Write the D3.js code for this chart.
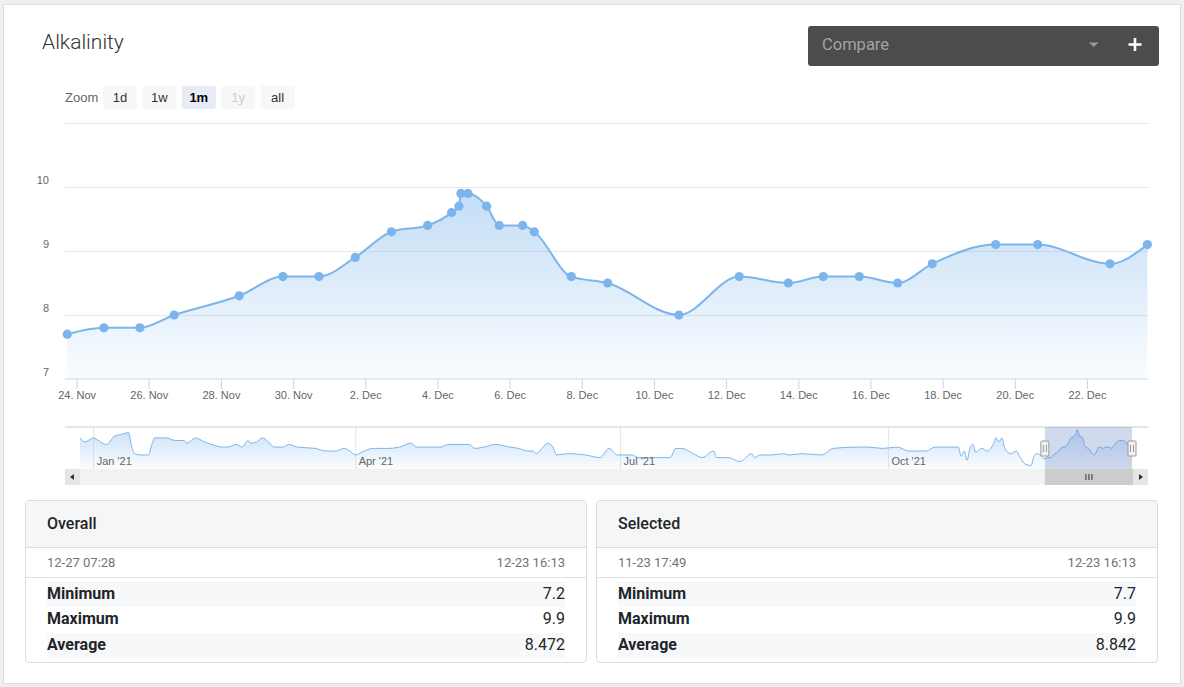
<!DOCTYPE html>
<html>
<head>
<meta charset="utf-8">
<script src="https://cdn.jsdelivr.net/npm/d3@7"></script>
<style>
  body { margin:0; background:#efefef; width:1184px; height:687px; overflow:hidden; font-family:Roboto, "Noto Sans", sans-serif; }
  #card { position:absolute; left:3px; top:4px; width:1178px; height:680px; background:#fff; border:1px solid #dedede; box-sizing:border-box; }
  #chart { position:absolute; left:0; top:0; }
  .stat { position:absolute; top:500px; width:562px; height:163px; border:1px solid #dcdcdc; border-radius:4px; box-sizing:border-box; overflow:hidden; background:#fff; }
  .stat .hd { height:46px; background:#f6f6f6; border-bottom:1px solid #dcdcdc; padding-left:21px; line-height:46px; font-size:16px; font-weight:500; color:#212529; }
  .stat .dates { height:29px; border-bottom:1px solid #e2e2e2; display:flex; justify-content:space-between; padding:0 21px; line-height:29px; font-size:13px; color:#6c757d; }
  .stat .rows { padding:4px 21px 0; }
  .stat .row { height:25.3px; display:flex; justify-content:space-between; line-height:24px; font-size:16px; color:#212529; }
  .stat .row:nth-child(odd) { background:#f7f8f9; }
  .stat .row .k { font-weight:700; }
</style>
</head>
<body>
<div id="card"></div>
<svg id="chart" width="1184" height="687"></svg>
<script>
// selected month (main chart)
const mainDates = [
  "2021-11-23T17:49", "2021-11-24T18:10", "2021-11-25T18:06", "2021-11-26T16:55", "2021-11-28T12:10",
  "2021-11-29T17:14", "2021-11-30T17:11", "2021-12-01T17:20", "2021-12-02T17:24", "2021-12-03T17:29",
  "2021-12-04T09:27", "2021-12-04T14:18", "2021-12-04T15:37", "2021-12-04T20:17", "2021-12-05T08:44",
  "2021-12-05T17:07", "2021-12-06T08:40", "2021-12-06T16:23", "2021-12-07T17:00", "2021-12-08T17:13",
  "2021-12-10T16:38", "2021-12-12T08:45", "2021-12-13T17:21", "2021-12-14T16:38", "2021-12-15T16:35",
  "2021-12-16T18:07", "2021-12-17T17:08", "2021-12-19T11:18", "2021-12-20T15:14", "2021-12-22T15:20",
  "2021-12-23T16:13"
];
const mainValues = [
  7.7, 7.8, 7.8, 8.0, 8.3, 8.6, 8.6, 8.9, 9.3, 9.4,
  9.6, 9.7, 9.9, 9.9, 9.7, 9.4, 9.4, 9.3, 8.6, 8.5,
  8.0, 8.6, 8.5, 8.6, 8.6, 8.5, 8.8, 9.1, 9.1, 8.8,
  9.1
];

// older history shown only in the navigator
const navDates = [
  "2020-12-27T07:28", "2020-12-29", "2020-12-31T22:00", "2021-01-02", "2021-01-04", "2021-01-05T12:00",
  "2021-01-08", "2021-01-11", "2021-01-13", "2021-01-14", "2021-01-15", "2021-01-17", "2021-01-19T19:00",
  "2021-01-21", "2021-01-22", "2021-01-26", "2021-01-29", "2021-02-01", "2021-02-02", "2021-02-05",
  "2021-02-08", "2021-02-12", "2021-02-14", "2021-02-16", "2021-02-19", "2021-02-21", "2021-02-23",
  "2021-02-24", "2021-02-26", "2021-02-28", "2021-03-02", "2021-03-04", "2021-03-07", "2021-03-09",
  "2021-03-12", "2021-03-18", "2021-03-22", "2021-03-25", "2021-03-28", "2021-03-30", "2021-04-01",
  "2021-04-03", "2021-04-07", "2021-04-10", "2021-04-12", "2021-04-16", "2021-04-20", "2021-04-22",
  "2021-04-26", "2021-04-30", "2021-05-03", "2021-05-10", "2021-05-12", "2021-05-15", "2021-05-19",
  "2021-05-24", "2021-05-27", "2021-05-30", "2021-06-01", "2021-06-02", "2021-06-04", "2021-06-06",
  "2021-06-08", "2021-06-09", "2021-06-13", "2021-06-19", "2021-06-24", "2021-06-27", "2021-06-30",
  "2021-07-05", "2021-07-07", "2021-07-18", "2021-07-20", "2021-07-22", "2021-07-26", "2021-07-29",
  "2021-08-02", "2021-08-03", "2021-08-07", "2021-08-11", "2021-08-15", "2021-08-16", "2021-08-18",
  "2021-08-22", "2021-08-26", "2021-08-28", "2021-09-01", "2021-09-08", "2021-09-12", "2021-09-20",
  "2021-09-24", "2021-09-29", "2021-10-04", "2021-10-08", "2021-10-14", "2021-10-17", "2021-10-25",
  "2021-10-26", "2021-10-27", "2021-10-28", "2021-10-29", "2021-10-30", "2021-10-31", "2021-11-02",
  "2021-11-04", "2021-11-06", "2021-11-07", "2021-11-08", "2021-11-09", "2021-11-10", "2021-11-12",
  "2021-11-14", "2021-11-15", "2021-11-17", "2021-11-19", "2021-11-20", "2021-11-21", "2021-11-22"
];
const navValues = [
  9.3, 9.0, 9.3, 9.2, 8.9, 8.8,
  9.4, 9.6, 9.7, 8.7, 8.1, 8.0, 8.0,
  8.8, 9.3, 9.3, 9.1, 9.1, 8.9, 9.3,
  9.0, 8.7, 8.6, 8.6, 8.8, 8.6, 9.1,
  8.9, 9.0, 9.3, 9.0, 8.6, 8.6, 8.8,
  8.6, 8.5, 8.3, 8.3, 8.5, 8.3, 8.0,
  8.2, 8.5, 8.5, 8.5, 8.6, 8.9, 8.6,
  8.6, 8.6, 8.8, 8.8, 8.5, 8.6, 8.8,
  8.6, 8.5, 8.3, 8.3, 8.1, 8.5, 8.9,
  8.5, 8.0, 8.1, 8.0, 7.8, 8.5, 8.0,
  8.0, 7.8, 7.8, 8.5, 8.5, 8.1, 7.8,
  8.3, 7.8, 7.8, 7.5, 8.1, 7.8, 8.0,
  8.0, 8.1, 8.0, 8.1, 8.0, 8.5, 8.6,
  8.6, 8.5, 8.6, 8.3, 8.3, 8.6, 8.6,
  7.9, 8.3, 7.6, 8.5, 8.8, 8.2, 8.5,
  8.3, 8.8, 9.3, 9.0, 9.3, 8.5, 8.1,
  8.3, 7.9, 7.3, 7.2, 7.9, 8.1, 8.0
];

const yLabels = [7, 8, 9, 10];
const yGrid = [8, 9, 10, 11];
const navMonths = ["2021-01-01", "2021-04-01", "2021-07-01", "2021-10-01"];
const zoomButtons = ["1d", "1w", "1m", "1y", "all"];

const statTitles = ["Overall", "Selected"];
const statFrom = ["12-27 07:28", "11-23 17:49"];
const statTo = ["12-23 16:13", "12-23 16:13"];
const statLabels = ["Minimum", "Maximum", "Average"];
const overallStats = ["7.2", "9.9", "8.472"];
const selectedStats = ["7.7", "9.9", "8.842"];

const parse = s => s.length > 10 ? d3.timeParse("%Y-%m-%dT%H:%M")(s) : d3.timeParse("%Y-%m-%d")(s);
const main = mainDates.map((d, i) => ({ t: parse(d), v: mainValues[i] }));
const nav = navDates.map((d, i) => ({ t: parse(d), v: navValues[i] })).concat(main);

const svg = d3.select("#chart");
const chartFont = '"Liberation Sans", Arial, sans-serif';
const blue = "#7cb5ec";
const plotL = 65, plotR = 1148, plotT = 123, plotB = 379;

// title
svg.append("text").attr("x", 42).attr("y", 49)
  .attr("font-family", "Roboto").attr("font-weight", 300).attr("font-size", 21)
  .attr("fill", "#333").text("Alkalinity");

// compare box
const cmp = svg.append("g");
cmp.append("rect").attr("x", 808).attr("y", 26).attr("width", 351).attr("height", 40)
  .attr("rx", 3).attr("fill", "#4b4c4b");
cmp.append("text").attr("x", 822).attr("y", 50).attr("font-family", "Roboto")
  .attr("font-size", 16.5).attr("fill", "#a3a3a3").text("Compare");
cmp.append("path").attr("d", "M1089,42.5 L1098.5,42.5 L1093.75,47 Z").attr("fill", "#9a9a9a");
cmp.append("path").attr("d", "M1128.5,44.5 H1141.5 M1135,38 V51")
  .attr("stroke", "#fff").attr("stroke-width", 2.6);

// zoom buttons
svg.append("text").attr("x", 65).attr("y", 102).attr("font-family", chartFont)
  .attr("font-size", 13).attr("fill", "#666").text("Zoom");
const btn = svg.append("g").selectAll("g").data(zoomButtons).enter().append("g")
  .attr("transform", (d, i) => `translate(${103 + i * 39.4},86)`);
btn.append("rect").attr("width", 34).attr("height", 23).attr("rx", 2)
  .attr("fill", d => d === "1m" ? "#e6ebf5" : "#f7f7f7");
btn.append("text").attr("x", 17).attr("y", 16).attr("text-anchor", "middle")
  .attr("font-family", chartFont).attr("font-size", 13)
  .attr("font-weight", d => d === "1m" ? "bold" : "normal")
  .attr("fill", d => d === "1m" ? "#000" : d === "1y" ? "#ccc" : "#333")
  .text(d => d);

// main chart scales
const x = d3.scaleTime().domain([main[0].t, main[main.length - 1].t]).range([67.3, 1147.4]);
const y = d3.scaleLinear().domain([7, 11]).range([plotB, plotT]);

// grid
svg.append("g").attr("transform", `translate(${plotL},0)`)
  .call(d3.axisRight(y).tickValues(yGrid).tickSize(plotR - plotL).tickFormat(""))
  .call(g => g.select(".domain").remove())
  .call(g => g.selectAll("line").attr("stroke", "#e6e6e6"));

// y labels
svg.append("g").attr("transform", "translate(49,-7)")
  .call(d3.axisLeft(y).tickValues(yLabels).tickSize(0).tickPadding(0).tickFormat(d3.format("d")))
  .call(g => g.select(".domain").remove())
  .call(g => g.selectAll("text").attr("font-family", chartFont).attr("font-size", 11).attr("fill", "#666"));

// area + line
const defs = svg.append("defs");
const grad = defs.append("linearGradient").attr("id", "mainFill").attr("x1", 0).attr("y1", 0).attr("x2", 0).attr("y2", 1);
grad.append("stop").attr("offset", 0).attr("stop-color", blue).attr("stop-opacity", 0.45);
grad.append("stop").attr("offset", 1).attr("stop-color", blue).attr("stop-opacity", 0.04);
const navGrad = defs.append("linearGradient").attr("id", "navFill").attr("x1", 0).attr("y1", 0).attr("x2", 0).attr("y2", 1);
navGrad.append("stop").attr("offset", 0).attr("stop-color", blue).attr("stop-opacity", 0.4);
navGrad.append("stop").attr("offset", 1).attr("stop-color", blue).attr("stop-opacity", 0.03);

svg.append("path").datum(main)
  .attr("d", d3.area().curve(d3.curveMonotoneX).x(d => x(d.t)).y0(plotB).y1(d => y(d.v)))
  .attr("fill", "url(#mainFill)");
svg.append("path").datum(main)
  .attr("d", d3.line().curve(d3.curveMonotoneX).x(d => x(d.t)).y(d => y(d.v)))
  .attr("fill", "none").attr("stroke", blue).attr("stroke-width", 2);

// x axis
svg.append("line").attr("x1", plotL).attr("x2", plotR).attr("y1", plotB).attr("y2", plotB)
  .attr("stroke", "#ccd6eb");
const tickDates = d3.timeDay.range(new Date(2021, 10, 24), main[main.length - 1].t, 2);
svg.append("g").attr("transform", `translate(0,${plotB})`)
  .call(d3.axisBottom(x).tickValues(tickDates).tickSize(10).tickPadding(2).tickFormat(d3.timeFormat("%-d. %b")))
  .call(g => g.select(".domain").remove())
  .call(g => g.selectAll("line").attr("stroke", "#ccd6eb"))
  .call(g => g.selectAll("text").attr("font-family", chartFont).attr("font-size", 11).attr("fill", "#666"));

// markers
svg.append("g").selectAll("circle").data(main).enter().append("circle")
  .attr("cx", d => x(d.t)).attr("cy", d => y(d.v)).attr("r", 4.6).attr("fill", blue);

// navigator
const navT = 427, navB = 469;
const nx = d3.scaleTime().domain([nav[0].t, nav[nav.length - 1].t]).range([80, 1132]);
const ny = d3.scaleLinear().domain([7.2, 9.9]).range([465.5, 430]);

svg.append("g").selectAll("line").data(navMonths).enter().append("line")
  .attr("x1", d => nx(parse(d))).attr("x2", d => nx(parse(d)))
  .attr("y1", navT).attr("y2", navB).attr("stroke", "#e6e6e6");

svg.append("path").datum(nav)
  .attr("d", d3.area().curve(d3.curveMonotoneX).x(d => nx(d.t)).y0(navB).y1(d => ny(d.v)))
  .attr("fill", "url(#navFill)");
svg.append("path").datum(nav)
  .attr("d", d3.line().curve(d3.curveMonotoneX).x(d => nx(d.t)).y(d => ny(d.v)))
  .attr("fill", "none").attr("stroke", blue).attr("stroke-width", 1);

svg.append("g").selectAll("text").data(navMonths).enter().append("text")
  .attr("x", d => nx(parse(d)) + 3).attr("y", 465)
  .attr("font-family", chartFont).attr("font-size", 11).attr("fill", "#666")
  .text(d => d3.timeFormat("%b '%y")(parse(d)));

svg.append("line").attr("x1", plotL).attr("x2", plotR).attr("y1", navT).attr("y2", navT)
  .attr("stroke", "#cccccc");

const mL = nx(main[0].t), mR = nx(main[main.length - 1].t);
svg.append("rect").attr("x", mL).attr("y", navT).attr("width", mR - mL).attr("height", navB - navT)
  .attr("fill", "rgba(102,133,194,0.3)");

// handles
const handle = svg.append("g").selectAll("g").data([mL, mR]).enter().append("g")
  .attr("transform", d => `translate(${d},441)`);
handle.append("rect").attr("x", -4).attr("width", 8).attr("height", 15).attr("rx", 1)
  .attr("fill", "#f2f2f2").attr("stroke", "#999");
handle.append("path").attr("d", "M-1.5,4 V11 M1.5,4 V11").attr("stroke", "#999");

// scrollbar
const sb = svg.append("g").attr("transform", `translate(0,${navB})`);
sb.append("rect").attr("x", plotL).attr("width", plotR - plotL).attr("height", 16).attr("fill", "#f2f2f2");
sb.append("rect").attr("x", plotL).attr("width", 15).attr("height", 16).attr("fill", "#e6e6e6");
sb.append("rect").attr("x", plotR - 15).attr("width", 15).attr("height", 16).attr("fill", "#e6e6e6");
sb.append("rect").attr("x", mL).attr("width", (plotR - 15) - mL).attr("height", 16).attr("fill", "#cccccc");
sb.append("path").attr("d", `M${plotL + 9},5 L${plotL + 9},11 L${plotL + 5},8 Z`).attr("fill", "#333");
sb.append("path").attr("d", `M${plotR - 9},5 L${plotR - 9},11 L${plotR - 5},8 Z`).attr("fill", "#333");
const gx = (mL + plotR - 15) / 2;
sb.append("path").attr("d", `M${gx - 3},5 V11 M${gx},5 V11 M${gx + 3},5 V11`).attr("stroke", "#333").attr("stroke-width", 1);

// stats tables
const statValues = [overallStats, selectedStats];
const boxes = d3.select("body").selectAll("div.stat").data(statTitles).enter().append("div")
  .attr("class", "stat").style("left", (d, i) => (i === 0 ? 25 : 596) + "px");
boxes.append("div").attr("class", "hd").text(d => d);
const dr = boxes.append("div").attr("class", "dates");
dr.append("span").text((d, i) => statFrom[i]);
dr.append("span").text((d, i) => statTo[i]);
const rows = boxes.append("div").attr("class", "rows");
rows.each(function (d, i) {
  const r = d3.select(this).selectAll("div").data(statLabels).enter().append("div").attr("class", "row");
  r.append("span").attr("class", "k").text(k => k);
  r.append("span").text((k, j) => statValues[i][j]);
});
</script>
</body>
</html>
